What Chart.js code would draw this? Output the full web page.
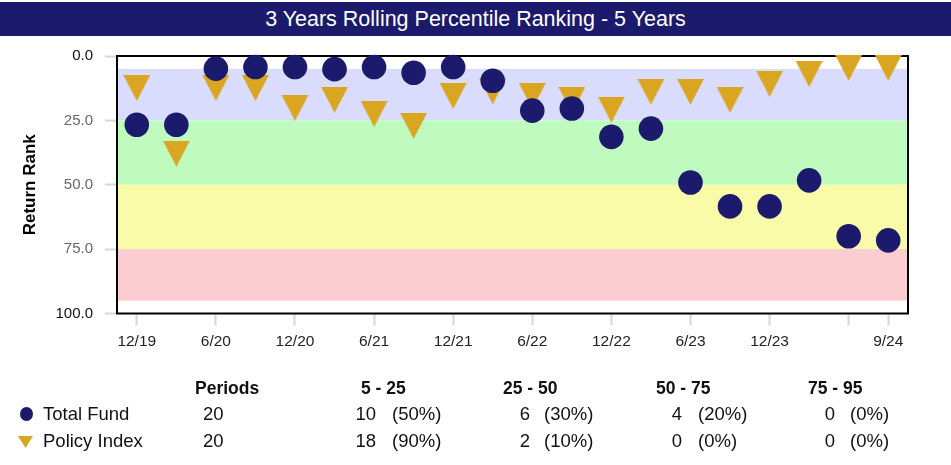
<!DOCTYPE html>
<html>
<head>
<meta charset="utf-8">
<script src="https://cdn.jsdelivr.net/npm/chart.js@4/dist/chart.umd.min.js"></script>
<style>
    html, body { margin: 0; padding: 0; background: #fff; }
    body { width: 951px; height: 465px; position: relative; overflow: hidden; font-family: "Liberation Sans", Arial, sans-serif; color: #111; }
    #titleBar { position: absolute; left: 0; top: 2px; width: 951px; height: 34px; background: #1b1a6c; color: #fff; font-size: 21.5px; line-height: 34px; text-align: center; }
    #chartBox { position: absolute; left: 0; top: 0; width: 951px; height: 465px; }
    .cell { position: absolute; height: 22px; line-height: 22px; font-size: 18.5px; white-space: nowrap; }
    .head { font-weight: bold; font-size: 17.5px; }
    .num { text-align: right; width: 40px; }
    .dot { position: absolute; width: 13px; height: 14px; border-radius: 50%; background: #1b1a6c; }
    .tri { position: absolute; width: 15px; height: 12px; background: #daa520; clip-path: polygon(0 0, 100% 0, 50% 100%); }
</style>
</head>
<body>
<div id="chartBox"><canvas id="rankChart" width="951" height="465"></canvas></div>
<div id="titleBar">3 Years Rolling Percentile Ranking - 5 Years</div>
<div id="summary"></div>

<script>
// quarters shown on the x axis
const quarters = ['12/19', '3/20', '6/20', '9/20', '12/20', '3/21', '6/21', '9/21', '12/21', '3/22',
                  '6/22', '9/22', '12/22', '3/23', '6/23', '9/23', '12/23', '3/24', '6/24', '9/24'];
const quarterLabels = ['12/19', '', '6/20', '', '12/20', '', '6/21', '', '12/21', '',
                       '6/22', '', '12/22', '', '6/23', '', '12/23', '', '', '9/24'];

// percentile ranks (0 = best)
const totalFund = [26.7, 26.7, 4.9, 4.3, 4.3, 5.1, 4.3, 6.5, 4.3, 9.6,
                   21.2, 20.4, 31.4, 28.2, 49.1, 58.4, 58.4, 48.3, 70.0, 71.6];
const policyIndex = [12.4, 37.9, 12.4, 12.4, 20.1, 17.0, 22.5, 27.1, 15.5, 13.7,
                     15.5, 17.0, 20.8, 13.9, 13.9, 17.0, 10.8, 7.0, 4.6, 4.6];

// percentile bands behind the points
const bandEdges = [[5, 25], [25, 50], [50, 75], [75, 95]];
const bandColors = ['#d9dcfc', '#bffbbe', '#fafba9', '#fbcdd0'];

// summary table below the chart
const rangeHeaders = ['5 - 25', '25 - 50', '50 - 75', '75 - 95'];
const fundPeriods = 20;
const fundCounts = [10, 6, 4, 0];
const fundShares = ['(50%)', '(30%)', '(20%)', '(0%)'];
const policyPeriods = 20;
const policyCounts = [18, 2, 0, 0];
const policyShares = ['(90%)', '(10%)', '(0%)', '(0%)'];

const navy = '#1b1a6c';
const gold = '#daa520';

// downward triangle marker
const triMarker = document.createElement('canvas');
triMarker.width = 27;
triMarker.height = 26;
(function() {
    const c = triMarker.getContext('2d');
    c.fillStyle = gold;
    c.beginPath();
    c.moveTo(0, 0);
    c.lineTo(27, 0);
    c.lineTo(13.5, 26);
    c.closePath();
    c.fill();
})();

const bandsPlugin = {
    id: 'bands',
    beforeDatasetsDraw(chart) {
        const { ctx, chartArea, scales } = chart;
        ctx.save();
        bandEdges.forEach((b, i) => {
            const y1 = scales.y.getPixelForValue(b[0]);
            const y2 = scales.y.getPixelForValue(b[1]);
            ctx.fillStyle = bandColors[i];
            ctx.fillRect(chartArea.left, y1, chartArea.right - chartArea.left, y2 - y1);
        });
        ctx.strokeStyle = '#000';
        ctx.lineWidth = 2;
        ctx.strokeRect(chartArea.left, chartArea.top, chartArea.right - chartArea.left, chartArea.bottom - chartArea.top);
        ctx.restore();
    }
};

const ctx = document.getElementById('rankChart').getContext('2d');
new Chart(ctx, {
    type: 'line',
    data: {
        labels: quarters,
        datasets: [
            {
                label: 'Total Fund',
                data: totalFund,
                showLine: false,
                pointStyle: 'circle',
                pointRadius: 12.3,
                pointHoverRadius: 12.3,
                pointBackgroundColor: navy,
                pointBorderWidth: 0,
                clip: false
            },
            {
                label: 'Policy Index',
                data: policyIndex,
                showLine: false,
                pointStyle: triMarker,
                pointRadius: 13,
                pointBackgroundColor: gold,
                pointBorderWidth: 0,
                clip: false
            }
        ]
    },
    options: {
        responsive: false,
        animation: false,
        layout: { padding: { top: 56, right: 43, left: 0, bottom: 0 } },
        plugins: {
            legend: { display: false },
            tooltip: { enabled: false }
        },
        scales: {
            x: {
                type: 'category',
                offset: true,
                border: { display: false },
                grid: {
                    drawOnChartArea: false,
                    drawTicks: true,
                    tickLength: 12,
                    tickWidth: 2,
                    tickColor: (c) => (c.index % 2 === 0 || c.index === quarters.length - 1) ? '#d6d6d6' : 'rgba(0,0,0,0)'
                },
                ticks: {
                    autoSkip: false,
                    maxRotation: 0,
                    padding: 7,
                    color: '#222',
                    font: { family: 'Liberation Sans', size: 15.5 },
                    callback: (v, i) => quarterLabels[i]
                },
                afterFit: (s) => { s.height = 151.5; }
            },
            y: {
                reverse: true,
                min: 0,
                max: 100,
                border: { display: false },
                grid: {
                    drawOnChartArea: false,
                    drawTicks: true,
                    tickLength: 12,
                    tickWidth: 2,
                    tickColor: '#d6d6d6'
                },
                ticks: {
                    stepSize: 25,
                    padding: 12,
                    color: (c) => (c.tick && (c.tick.value === 0 || c.tick.value === 100)) ? '#111' : '#666',
                    font: { family: 'Liberation Sans', size: 15 },
                    callback: (v) => v.toFixed(1)
                },
                title: {
                    display: true,
                    text: 'Return Rank',
                    color: '#000',
                    font: { family: 'Liberation Sans', size: 17, weight: 'bold' },
                    padding: { top: 20, bottom: 0 }
                },
                afterFit: (s) => { s.width = 117; }
            }
        }
    },
    plugins: [bandsPlugin]
});

// summary table
const summary = document.getElementById('summary');
function addCell(text, left, centerY, cls) {
    const el = document.createElement('div');
    el.className = 'cell ' + (cls || '');
    el.textContent = text;
    el.style.left = left + 'px';
    el.style.top = (centerY - 11) + 'px';
    summary.appendChild(el);
    return el;
}
const headY = 388, fundY = 414, policyY = 441;
const headLefts = [361, 503, 656, 808];
const countRights = [376, 530, 682, 835];
const shareLefts = [392, 544, 698, 850];

addCell('Periods', 195, headY, 'head');
rangeHeaders.forEach((h, i) => addCell(h, headLefts[i], headY, 'head'));

function addRow(name, periods, counts, shares, y) {
    addCell(name, 43, y);
    addCell(String(periods), 203, y);
    counts.forEach((n, i) => addCell(String(n), countRights[i] - 40, y, 'num'));
    shares.forEach((p, i) => addCell(p, shareLefts[i], y));
}
addRow('Total Fund', fundPeriods, fundCounts, fundShares, fundY);
addRow('Policy Index', policyPeriods, policyCounts, policyShares, policyY);

const dot = document.createElement('div');
dot.className = 'dot';
dot.style.left = '20px';
dot.style.top = (fundY - 7) + 'px';
summary.appendChild(dot);
const tri = document.createElement('div');
tri.className = 'tri';
tri.style.left = '18px';
tri.style.top = (policyY - 5) + 'px';
summary.appendChild(tri);
</script>
</body>
</html>
